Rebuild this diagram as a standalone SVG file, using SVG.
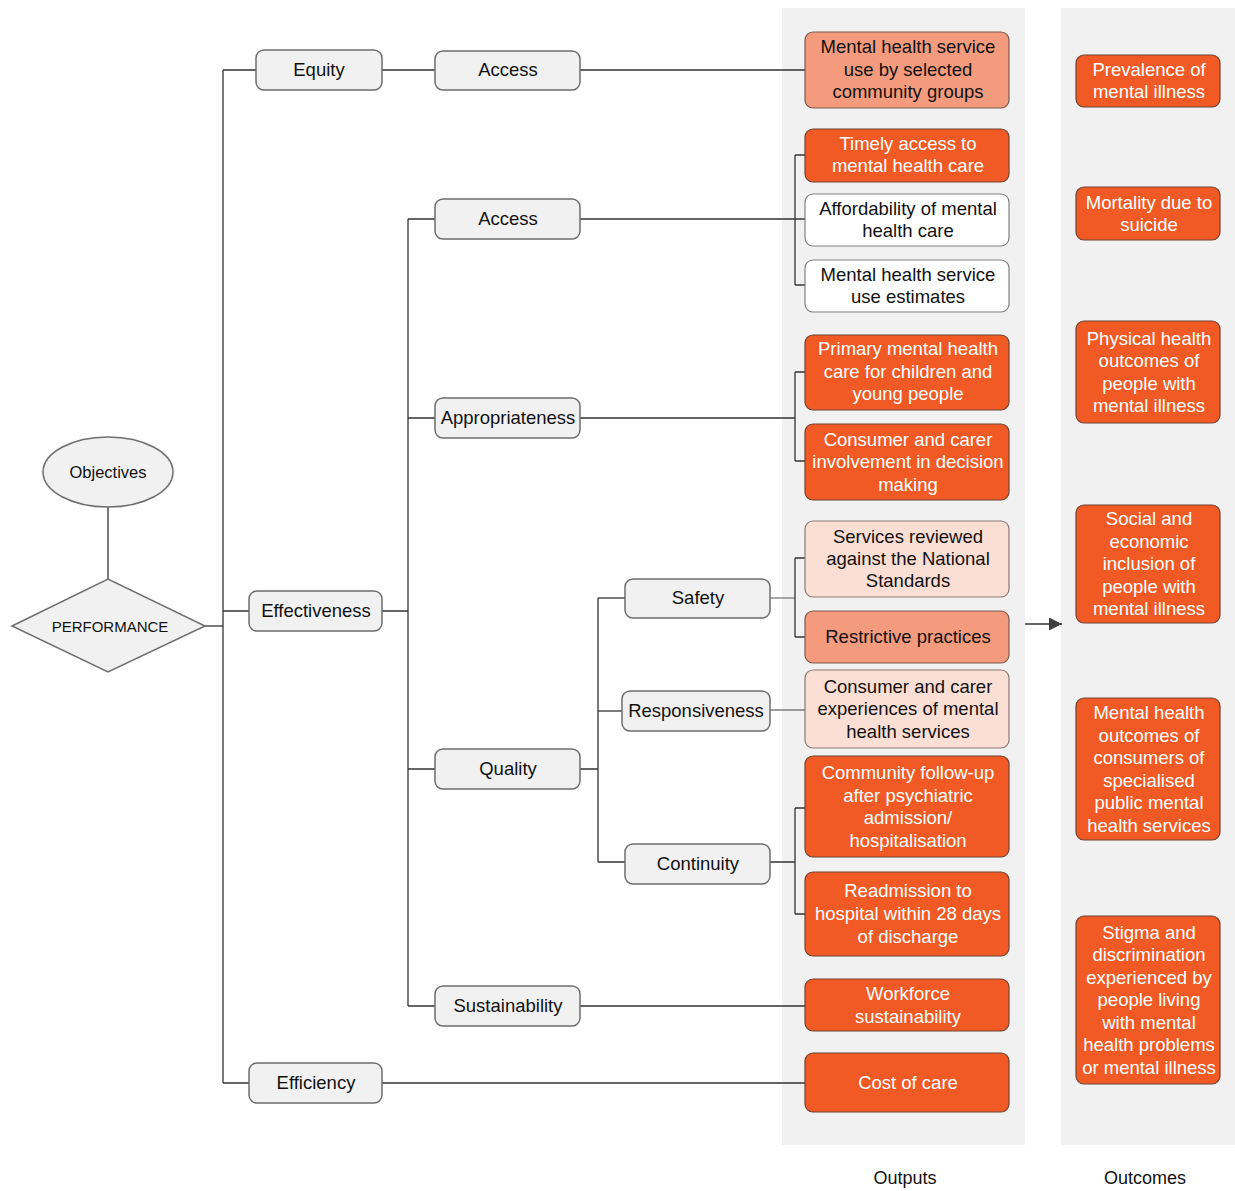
<svg xmlns="http://www.w3.org/2000/svg" width="1235" height="1191" viewBox="0 0 1235 1191">
<defs>
<style>
.panel{fill:#f1f1f1;stroke:none}
.node{fill:#f1f1f1;stroke:#6e6e6e;stroke-width:1.5}
.o{fill:#f15a24;stroke:#6e4433;stroke-width:1.2}
.s{fill:#f59b7d;stroke:#7a5a4e;stroke-width:1.2}
.p{fill:#fcdfd4;stroke:#8a7a74;stroke-width:1.2}
.w{fill:#ffffff;stroke:#808080;stroke-width:1.2}
.c{fill:none;stroke:#333333;stroke-width:1.3}
.cg{fill:none;stroke:#7a7a7a;stroke-width:1.3}
text{font-family:"Liberation Sans",Arial,sans-serif;font-size:18.5px;text-anchor:middle;fill:#111111}
.wt{fill:#ffffff}
.sm{font-size:15px}
.ob{font-size:16.5px}
.lbl{font-size:18px}
</style>
<marker id="ah" markerWidth="14" markerHeight="14" refX="13" refY="6.5" orient="auto" markerUnits="userSpaceOnUse">
<path d="M0,0 L13,6.5 L0,13 Z" fill="#404040"/>
</marker>
</defs>
<rect width="1235" height="1191" fill="#ffffff"/>
<rect class="panel" x="782" y="8" width="243" height="1137"/>
<rect class="panel" x="1061" y="8" width="174" height="1137"/>

<g id="connectors">
<path class="c" d="M108,507 V579"/>
<path class="c" d="M205,626 H223"/>
<path class="c" d="M223,70 V1083"/>
<path class="c" d="M223,70 H256 M382,70 H435 M580,70 H805"/>
<path class="c" d="M223,611 H249 M382,611 H408"/>
<path class="c" d="M223,1083 H249 M382,1083 H805"/>
<path class="c" d="M408,219 V1006"/>
<path class="c" d="M408,219 H435 M580,219 H805"/>
<path class="c" d="M795,155 V285 M795,155 H805 M795,285 H805"/>
<path class="c" d="M408,418 H435 M580,418 H795"/>
<path class="c" d="M795,372 V461 M795,372 H805 M795,461 H805"/>
<path class="c" d="M408,769 H435 M580,769 H598"/>
<path class="c" d="M598,598 V862"/>
<path class="c" d="M598,598 H625"/>
<path class="cg" d="M770,598 H795"/>
<path class="c" d="M795,558 V637 M795,558 H805 M795,637 H805"/>
<path class="c" d="M598,711 H622"/>
<path class="cg" d="M770,710 H805"/>
<path class="c" d="M598,862 H625 M770,862 H795"/>
<path class="c" d="M795,808 V914 M795,808 H805 M795,914 H805"/>
<path class="c" d="M408,1006 H435 M580,1006 H805"/>
<path class="c" d="M1025,624 H1062" marker-end="url(#ah)"/>
</g>

<g id="objectives"><ellipse cx="108" cy="472" rx="65" ry="35" class="node"/><text x="108" y="478" class="ob">Objectives</text></g>
<g id="performance"><polygon points="12,626 108,579 205,626 108,672" class="node"/><text x="110" y="632" class="sm">PERFORMANCE</text></g>

<g id="equity"><rect class="node" x="256" y="50" width="126" height="40" rx="8"/><text x="319" y="76">Equity</text></g>
<g id="access1"><rect class="node" x="435" y="51" width="145" height="39" rx="8"/><text x="508" y="76">Access</text></g>
<g id="effectiveness"><rect class="node" x="249" y="591" width="133" height="40" rx="8"/><text x="316" y="617">Effectiveness</text></g>
<g id="efficiency"><rect class="node" x="249" y="1063" width="133" height="40" rx="8"/><text x="316" y="1089">Efficiency</text></g>
<g id="access2"><rect class="node" x="435" y="199" width="145" height="40" rx="8"/><text x="508" y="225">Access</text></g>
<g id="appropriateness"><rect class="node" x="435" y="398" width="145" height="40" rx="8"/><text x="508" y="424">Appropriateness</text></g>
<g id="quality"><rect class="node" x="435" y="749" width="145" height="40" rx="8"/><text x="508" y="775">Quality</text></g>
<g id="sustainability"><rect class="node" x="435" y="986" width="145" height="40" rx="8"/><text x="508" y="1012">Sustainability</text></g>
<g id="safety"><rect class="node" x="625" y="579" width="145" height="39" rx="8"/><text x="698" y="604">Safety</text></g>
<g id="responsiveness"><rect class="node" x="622" y="691" width="148" height="40" rx="8"/><text x="696" y="717">Responsiveness</text></g>
<g id="continuity"><rect class="node" x="625" y="844" width="145" height="40" rx="8"/><text x="698" y="870">Continuity</text></g>

<g id="out1"><rect class="s" x="805" y="32" width="204" height="76" rx="8"/><text x="908" y="53">Mental health service</text><text x="908" y="76">use by selected</text><text x="908" y="98">community groups</text></g>
<g id="out2"><rect class="o" x="805" y="129" width="204" height="53" rx="8"/><text class="wt" x="908" y="150">Timely access to</text><text class="wt" x="908" y="172">mental health care</text></g>
<g id="out3"><rect class="w" x="805" y="194" width="204" height="52" rx="8"/><text x="908" y="215">Affordability of mental</text><text x="908" y="237">health care</text></g>
<g id="out4"><rect class="w" x="805" y="260" width="204" height="52" rx="8"/><text x="908" y="281">Mental health service</text><text x="908" y="303">use estimates</text></g>
<g id="out5"><rect class="o" x="805" y="335" width="204" height="75" rx="8"/><text class="wt" x="908" y="355">Primary mental health</text><text class="wt" x="908" y="378">care for children and</text><text class="wt" x="908" y="400">young people</text></g>
<g id="out6"><rect class="o" x="805" y="424" width="204" height="76" rx="8"/><text class="wt" x="908" y="446">Consumer and carer</text><text class="wt" x="908" y="468">involvement in decision</text><text class="wt" x="908" y="491">making</text></g>
<g id="out7"><rect class="p" x="805" y="521" width="204" height="76" rx="8"/><text x="908" y="543">Services reviewed</text><text x="908" y="565">against the National</text><text x="908" y="587">Standards</text></g>
<g id="out8"><rect class="s" x="805" y="611" width="204" height="52" rx="8"/><text x="908" y="643">Restrictive practices</text></g>
<g id="out9"><rect class="p" x="805" y="670" width="204" height="78" rx="8"/><text x="908" y="693">Consumer and carer</text><text x="908" y="715">experiences of mental</text><text x="908" y="738">health services</text></g>
<g id="out10"><rect class="o" x="805" y="756" width="204" height="101" rx="8"/><text class="wt" x="908" y="779">Community follow-up</text><text class="wt" x="908" y="802">after psychiatric</text><text class="wt" x="908" y="824">admission/</text><text class="wt" x="908" y="847">hospitalisation</text></g>
<g id="out11"><rect class="o" x="805" y="872" width="204" height="84" rx="8"/><text class="wt" x="908" y="897">Readmission to</text><text class="wt" x="908" y="920">hospital within 28 days</text><text class="wt" x="908" y="943">of discharge</text></g>
<g id="out12"><rect class="o" x="805" y="979" width="204" height="52" rx="8"/><text class="wt" x="908" y="1000">Workforce</text><text class="wt" x="908" y="1023">sustainability</text></g>
<g id="out13"><rect class="o" x="805" y="1053" width="204" height="59" rx="8"/><text class="wt" x="908" y="1089">Cost of care</text></g>

<g id="oc1"><rect class="o" x="1076" y="55" width="144" height="52" rx="8"/><text class="wt" x="1149" y="76">Prevalence of</text><text class="wt" x="1149" y="98">mental illness</text></g>
<g id="oc2"><rect class="o" x="1076" y="187" width="144" height="53" rx="8"/><text class="wt" x="1149" y="209">Mortality due to</text><text class="wt" x="1149" y="231">suicide</text></g>
<g id="oc3"><rect class="o" x="1076" y="321" width="144" height="102" rx="8"/><text class="wt" x="1149" y="345">Physical health</text><text class="wt" x="1149" y="367">outcomes of</text><text class="wt" x="1149" y="390">people with</text><text class="wt" x="1149" y="412">mental illness</text></g>
<g id="oc4"><rect class="o" x="1076" y="505" width="144" height="118" rx="8"/><text class="wt" x="1149" y="525">Social and</text><text class="wt" x="1149" y="548">economic</text><text class="wt" x="1149" y="570">inclusion of</text><text class="wt" x="1149" y="593">people with</text><text class="wt" x="1149" y="615">mental illness</text></g>
<g id="oc5"><rect class="o" x="1076" y="698" width="144" height="142" rx="8"/><text class="wt" x="1149" y="719">Mental health</text><text class="wt" x="1149" y="742">outcomes of</text><text class="wt" x="1149" y="764">consumers of</text><text class="wt" x="1149" y="787">specialised</text><text class="wt" x="1149" y="809">public mental</text><text class="wt" x="1149" y="832">health services</text></g>
<g id="oc6"><rect class="o" x="1076" y="916" width="144" height="168" rx="8"/><text class="wt" x="1149" y="939">Stigma and</text><text class="wt" x="1149" y="961">discrimination</text><text class="wt" x="1149" y="984">experienced by</text><text class="wt" x="1149" y="1006">people living</text><text class="wt" x="1149" y="1029">with mental</text><text class="wt" x="1149" y="1051">health problems</text><text class="wt" x="1149" y="1074">or mental illness</text></g>

<g id="labels"><text class="lbl" x="905" y="1184">Outputs</text><text class="lbl" x="1145" y="1184">Outcomes</text></g>
</svg>
